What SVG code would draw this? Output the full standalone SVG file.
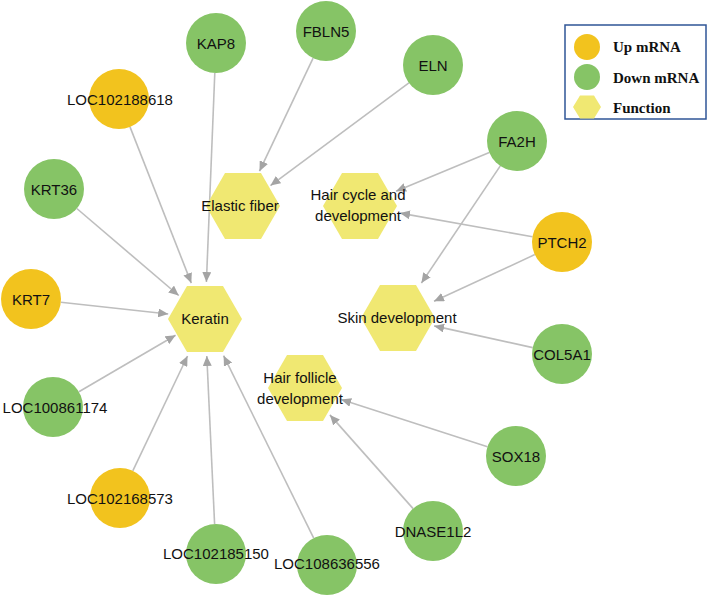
<svg xmlns="http://www.w3.org/2000/svg" width="708" height="597" viewBox="0 0 708 597">
<style>
.bg{fill:#ffffff}
.up{fill:#F2C31E}
.down{fill:#86C466}
.fn{fill:#F0E872}
.edge{stroke:#BEBEBE;stroke-width:1.6;fill:none}
.lbl{font-family:"Liberation Sans",Arial,sans-serif;font-size:15px;fill:#111;text-anchor:middle}
.leg{font-family:"Liberation Serif","Times New Roman",serif;font-size:15px;font-weight:bold;fill:#111}
</style>
<defs>
<marker id="arr" markerUnits="userSpaceOnUse" markerWidth="11" markerHeight="9" refX="10" refY="4.5" orient="auto">
<path d="M0,0 L10,4.5 L0,9 z" fill="#A4A4A4"/>
</marker>
<polygon id="hex" points="-37,0 -18,-33 18,-33 37,0 18,33 -18,33"/>
</defs>
<rect class="bg" x="0" y="0" width="708" height="597"/>
<g id="connectors">
<line class="edge" marker-end="url(#arr)" x1="214.8" y1="73" x2="206.4" y2="282"/>
<line class="edge" marker-end="url(#arr)" x1="130" y1="126.9" x2="191.3" y2="283.1"/>
<line class="edge" marker-end="url(#arr)" x1="76.8" y1="208.5" x2="178.7" y2="295.5"/>
<line class="edge" marker-end="url(#arr)" x1="60.8" y1="302.3" x2="168.2" y2="314"/>
<line class="edge" marker-end="url(#arr)" x1="78.9" y1="391.8" x2="175.6" y2="335.2"/>
<line class="edge" marker-end="url(#arr)" x1="132.8" y1="470.9" x2="187.5" y2="356"/>
<line class="edge" marker-end="url(#arr)" x1="214.6" y1="524" x2="206.8" y2="356"/>
<line class="edge" marker-end="url(#arr)" x1="313.7" y1="538.1" x2="223.6" y2="355.7"/>
<line class="edge" marker-end="url(#arr)" x1="313.1" y1="58.1" x2="259.5" y2="171.2"/>
<line class="edge" marker-end="url(#arr)" x1="408.9" y1="82.9" x2="270.5" y2="185.6"/>
<line class="edge" marker-end="url(#arr)" x1="489.3" y1="152.5" x2="396" y2="191.2"/>
<line class="edge" marker-end="url(#arr)" x1="532.5" y1="236.7" x2="400" y2="213.1"/>
<line class="edge" marker-end="url(#arr)" x1="500.3" y1="165.9" x2="421.4" y2="283.1"/>
<line class="edge" marker-end="url(#arr)" x1="534.8" y1="254.6" x2="434" y2="301.3"/>
<line class="edge" marker-end="url(#arr)" x1="532.7" y1="347.6" x2="434.1" y2="325.9"/>
<line class="edge" marker-end="url(#arr)" x1="487.5" y1="446.8" x2="341.2" y2="399.4"/>
<line class="edge" marker-end="url(#arr)" x1="413.1" y1="508.6" x2="329.9" y2="414.9"/>
</g>
<g id="Elastic_fiber"><use href="#hex" class="fn" x="243" y="206"/><text class="lbl" x="240" y="210.5">Elastic fiber</text></g>
<g id="Hair_cycle_and_development"><use href="#hex" class="fn" x="360" y="206"/><text class="lbl" x="358" y="199.5">Hair cycle and</text><text class="lbl" x="358" y="220.5">development</text></g>
<g id="Keratin"><use href="#hex" class="fn" x="205" y="319"/><text class="lbl" x="205" y="323.5">Keratin</text></g>
<g id="Skin_development"><use href="#hex" class="fn" x="398" y="318"/><text class="lbl" x="397" y="322.5">Skin development</text></g>
<g id="Hair_follicle_development"><use href="#hex" class="fn" x="305" y="388"/><text class="lbl" x="300" y="383">Hair follicle</text><text class="lbl" x="300" y="403.5">development</text></g>
<g id="KAP8"><circle class="down" cx="216" cy="43" r="30"/><text class="lbl" x="216" y="48.5">KAP8</text></g>
<g id="FBLN5"><circle class="down" cx="326" cy="31" r="30"/><text class="lbl" x="326" y="36.5">FBLN5</text></g>
<g id="ELN"><circle class="down" cx="433" cy="65" r="30"/><text class="lbl" x="433" y="70.5">ELN</text></g>
<g id="LOC102188618"><circle class="up" cx="119" cy="99" r="30"/><text class="lbl" x="120" y="104.5">LOC102188618</text></g>
<g id="KRT36"><circle class="down" cx="54" cy="189" r="30"/><text class="lbl" x="54" y="194.5">KRT36</text></g>
<g id="KRT7"><circle class="up" cx="31" cy="299" r="30"/><text class="lbl" x="31" y="304.5">KRT7</text></g>
<g id="LOC100861174"><circle class="down" cx="53" cy="407" r="30"/><text class="lbl" x="55" y="412.5">LOC100861174</text></g>
<g id="LOC102168573"><circle class="up" cx="120" cy="498" r="30"/><text class="lbl" x="120" y="503.5">LOC102168573</text></g>
<g id="LOC102185150"><circle class="down" cx="216" cy="554" r="30"/><text class="lbl" x="216" y="559">LOC102185150</text></g>
<g id="LOC108636556"><circle class="down" cx="327" cy="565" r="30"/><text class="lbl" x="327" y="569">LOC108636556</text></g>
<g id="DNASE1L2"><circle class="down" cx="433" cy="531" r="30"/><text class="lbl" x="433" y="536.5">DNASE1L2</text></g>
<g id="SOX18"><circle class="down" cx="516" cy="456" r="30"/><text class="lbl" x="516" y="461.5">SOX18</text></g>
<g id="COL5A1"><circle class="down" cx="562" cy="354" r="30"/><text class="lbl" x="562" y="359.5">COL5A1</text></g>
<g id="PTCH2"><circle class="up" cx="562" cy="242" r="30"/><text class="lbl" x="562" y="247.5">PTCH2</text></g>
<g id="FA2H"><circle class="down" cx="517" cy="141" r="30"/><text class="lbl" x="517" y="146.5">FA2H</text></g>
<g id="legend">
<rect x="565" y="25" width="141" height="94" fill="#ffffff" stroke="#2F5597" stroke-width="1.5"/>
<circle class="up" cx="587" cy="47" r="13"/>
<circle class="down" cx="587" cy="77" r="13"/>
<polygon class="fn" points="573,107 580,95.5 594,95.5 601,107 594,118.5 580,118.5"/>
<text class="leg" x="613" y="52">Up mRNA</text>
<text class="leg" x="613" y="83">Down mRNA</text>
<text class="leg" x="613" y="113">Function</text>
</g>
</svg>
